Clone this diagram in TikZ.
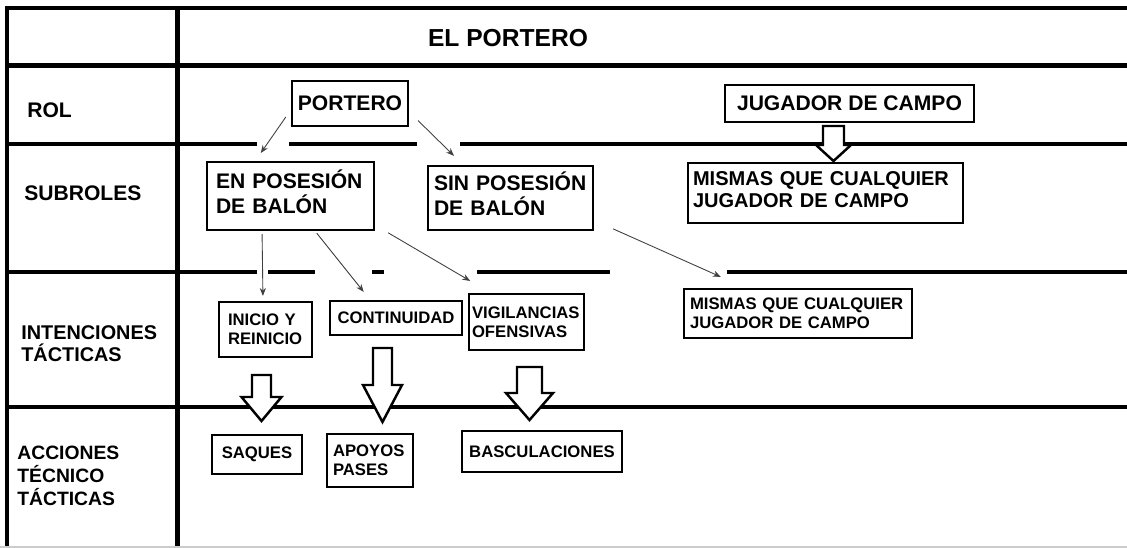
\documentclass[tikz,border=0pt]{standalone}
\usepackage{fontspec}
\setmainfont{Liberation Sans}
\usetikzlibrary{arrows.meta}
\newdimen\px \px=0.02cm

\begin{document}
\begin{tikzpicture}
  [x=0.02cm,y=-0.02cm,every node/.style={font=\bfseries},
   rejilla/.style={line width=2.55pt},
   caja/.style={draw,line width=1.3pt,inner sep=0pt,font=\bfseries\fontsize{12}{14.2}\selectfont},
   chica/.style={caja,font=\bfseries\fontsize{9.5}{10.8}\selectfont},
   etiqueta/.style={anchor=west,align=left,inner sep=0pt},
   flechita/.style={-{Stealth[length=4.5pt,width=3.5pt]},line width=0.5pt,black!75},
   gorda/.style={draw,fill=white,line width=1.4pt}]
  \useasboundingbox (0,0) rectangle (1127,548);

  % tabla
  \draw[rejilla] (4.75,8) -- (1127,8) (7,65.5) -- (1127,65.5)
    (7,144) -- (257,144) (289,144) -- (417,144) (460,144) -- (1127,144)
    (7,272) -- (257,272) (268,272) -- (315,272) (372,272) -- (384,272)
    (477,272) -- (610,272) (727,272) -- (1127,272)
    (7,407) -- (1127,407)
    (7,5.75) -- (7,548) (177.5,5.75) -- (177.5,548);
  \draw[gray!40,line width=0.6pt] (0,547) -- (1127,547);

  \node[font=\bfseries\fontsize{14}{16}\selectfont] (titulo) at (508,38) {EL PORTERO};
  \node[etiqueta,font=\bfseries\fontsize{12}{14}\selectfont] (rol) at (27,110) {ROL};
  \node[etiqueta,font=\bfseries\fontsize{12}{14}\selectfont] (subroles) at (24,193) {SUBROLES};
  \node[etiqueta,font=\bfseries\fontsize{11.3}{12.5}\selectfont] (intenciones) at (21,344) {INTENCIONES\\TÁCTICAS};
  \node[etiqueta,font=\bfseries\fontsize{11}{13}\selectfont] (acciones) at (17,476) {ACCIONES\\TÉCNICO\\TÁCTICAS};

  \foreach \x/\ya/\yb/\yc/\w/\h in {833.5/126/145/161/10.5/17.5, 261.5/375/397/421/9.5/20,
      382.5/348/385/422/9.5/19.5, 529.5/367/393/420/12.5/23.5}
    \draw[gorda] (\x-\w,\ya) -- (\x+\w,\ya) -- (\x+\w,\yb) -- (\x+\h,\yb) -- (\x,\yc)
      -- (\x-\h,\yb) -- (\x-\w,\yb) -- cycle;

  \node[caja,minimum width=116\px,minimum height=45\px] (portero) at (350,103.5) {PORTERO};
  \node[caja,minimum width=249\px,minimum height=37\px] (jugador) at (849.5,103.5) {JUGADOR DE CAMPO};
  \node[caja,align=left,text width=149\px,text depth=19.2pt,inner xsep=9\px,minimum height=68\px] (enpos) at (290.5,196) {EN POSESIÓN\\DE BALÓN};
  \node[caja,align=left,text width=153\px,text depth=19.2pt,inner xsep=6\px,minimum height=64\px] (sinpos) at (510.5,198) {SIN POSESIÓN\\DE BALÓN};
  \node[caja,font=\bfseries\fontsize{11.4}{12.5}\selectfont,align=left,text width=265\px,text depth=17pt,inner xsep=5\px,minimum height=60\px] (mismas1) at (825.5,193) {MISMAS QUE CUALQUIER\\JUGADOR DE CAMPO};

  \node[chica,align=left,text width=75\px,inner xsep=9\px,minimum height=55\px] (inicio) at (265.5,329.5) {INICIO Y\\REINICIO};
  \node[chica,minimum width=132\px,minimum height=34\px] (continuidad) at (396,318) {CONTINUIDAD};
  \node[chica,align=left,text width=109\px,inner xsep=3\px,minimum height=56\px] (vigil) at (526.5,322) {VIGILANCIAS\\OFENSIVAS};
  \node[chica,align=left,text width=216\px,inner xsep=6\px,minimum height=49\px] (mismas2) at (798,313.5) {MISMAS QUE CUALQUIER\\JUGADOR DE CAMPO};

  \node[chica,minimum width=90\px,minimum height=39\px] (saques) at (257,454.5) {SAQUES};
  \node[chica,align=left,text width=74\px,inner xsep=6\px,minimum height=53\px] (apoyos) at (370,460.5) {APOYOS\\PASES};
  \node[chica,minimum width=160\px,minimum height=41\px] (basculaciones) at (542,451.5) {BASCULACIONES};

  \foreach \from/\to/\s/\e in {portero.186/enpos.135/5/5.4, portero.352/sinpos.145/7.1/7.3,
      enpos.231/inicio.95/1.7/2.8, enpos.305/continuidad.145/1.5/5.8,
      enpos.341/vigil.141/8.6/13.4, sinpos.345/mismas2.154/11.8/15.3}
    \draw[flechita,shorten <=\s pt,shorten >=\e pt] (\from) -- (\to);

\end{tikzpicture}
\end{document}
